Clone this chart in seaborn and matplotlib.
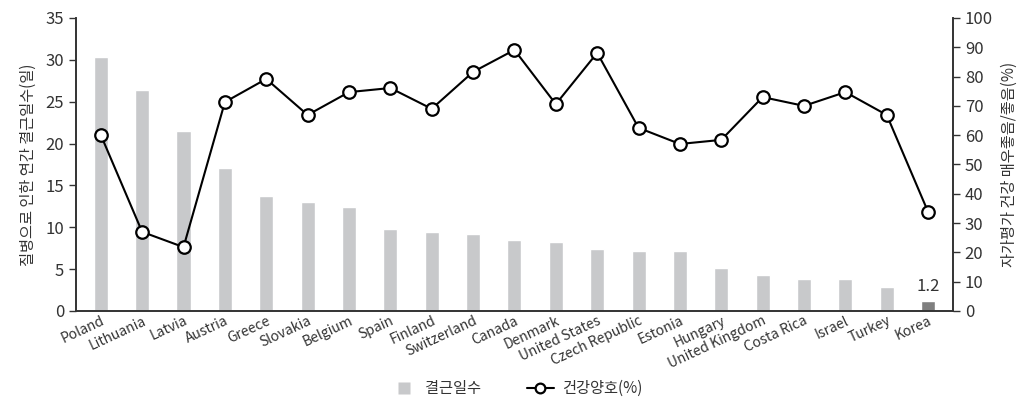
import numpy as np
import pandas as pd
import seaborn as sns
import matplotlib.pyplot as plt
from matplotlib.lines import Line2D

countries = ['Poland', 'Lithuania', 'Latvia', 'Austria', 'Greece', 'Slovakia', 'Belgium',
             'Spain', 'Finland', 'Switzerland', 'Canada', 'Denmark', 'United States',
             'Czech Republic', 'Estonia', 'Hungary', 'United Kingdom', 'Costa Rica',
             'Israel', 'Turkey', 'Korea']
absence_days = [30.3, 26.4, 21.5, 17.1, 13.7, 13.0, 12.4, 9.8, 9.4, 9.2, 8.5, 8.2, 7.4,
                7.2, 7.2, 5.1, 4.3, 3.8, 3.8, 2.9, 1.2]
good_health = [60.1, 27.0, 21.8, 71.3, 79.2, 66.9, 74.7, 76.1, 69.0, 81.6, 89.1, 70.6,
               88.1, 62.5, 57.0, 58.4, 73.0, 70.0, 74.7, 66.9, 33.8]

sns.set_theme(style='white')
plt.rcParams['font.family'] = ['Noto Sans CJK KR', 'DejaVu Sans']

light = '#c8c9cb'
dark = '#7f7f7f'
txt = '#333333'
palette = [dark if c == 'Korea' else light for c in countries]

df = pd.DataFrame({'country': countries, 'days': absence_days, 'health': good_health})

fig = plt.figure(figsize=(10.32, 4.07), dpi=100)
ax = fig.add_axes([0.0736, 0.2359, 0.8498, 0.7199])

sns.barplot(data=df, x='country', y='days', hue='country', palette=palette,
            width=0.34, legend=False, ax=ax, saturation=1)
ax.set_ylim(0, 35)
ax.set_yticks(range(0, 36, 5))
ax.set_xlim(-0.6, len(countries) - 0.4)
ax.set_xlabel('')
ax.set_ylabel('질병으로 인한 연간 결근일수(일)', fontsize=11, color=txt, labelpad=6)
ax.tick_params(axis='y', labelsize=12, colors=txt, length=5, width=1, direction='out', left=True)
ax.tick_params(axis='x', length=0, pad=2)
ax.set_xticks(range(len(countries)))
ax.set_xticklabels(countries, rotation=25, ha='right', rotation_mode='anchor',
                   fontsize=10, color=txt)
ax.annotate('1.2', (len(countries) - 1, absence_days[-1]), xytext=(0, 4),
            textcoords='offset points', ha='center', va='bottom', fontsize=12, color=txt)

ax2 = ax.twinx()
sns.lineplot(x=np.arange(len(countries)), y=good_health, ax=ax2, color='black', lw=1.5,
             marker='o', markersize=9, markerfacecolor='white', markeredgecolor='black',
             markeredgewidth=1.6)
ax2.set_ylim(0, 100)
ax2.set_yticks(range(0, 101, 10))
ax2.set_ylabel('자가평가 건강 매우좋음/좋음(%)', fontsize=11, color=txt, labelpad=6)
ax2.tick_params(axis='y', labelsize=12, colors=txt, length=5, width=1, direction='out', right=True)
ax2.grid(False)
ax.grid(False)

for a in (ax, ax2):
    a.spines['top'].set_visible(False)
    for s in ('left', 'right', 'bottom'):
        a.spines[s].set_color('#333333')
        a.spines[s].set_linewidth(1.2)

handles = [Line2D([0], [0], lw=0, marker='s', markersize=9, markerfacecolor=light,
                  markeredgecolor='none'),
           Line2D([0], [0], color='black', lw=1.5, marker='o', markersize=7,
                  markerfacecolor='white', markeredgecolor='black', markeredgewidth=1.6)]
fig.legend(handles, ['결근일수', '건강양호(%)'], loc='lower center', bbox_to_anchor=(0.5, -0.01),
           ncol=2, frameon=False, fontsize=11, handlelength=1.8, columnspacing=3,
           labelcolor=txt, handletextpad=0.5)

fig.savefig('out.png', dpi=100)
